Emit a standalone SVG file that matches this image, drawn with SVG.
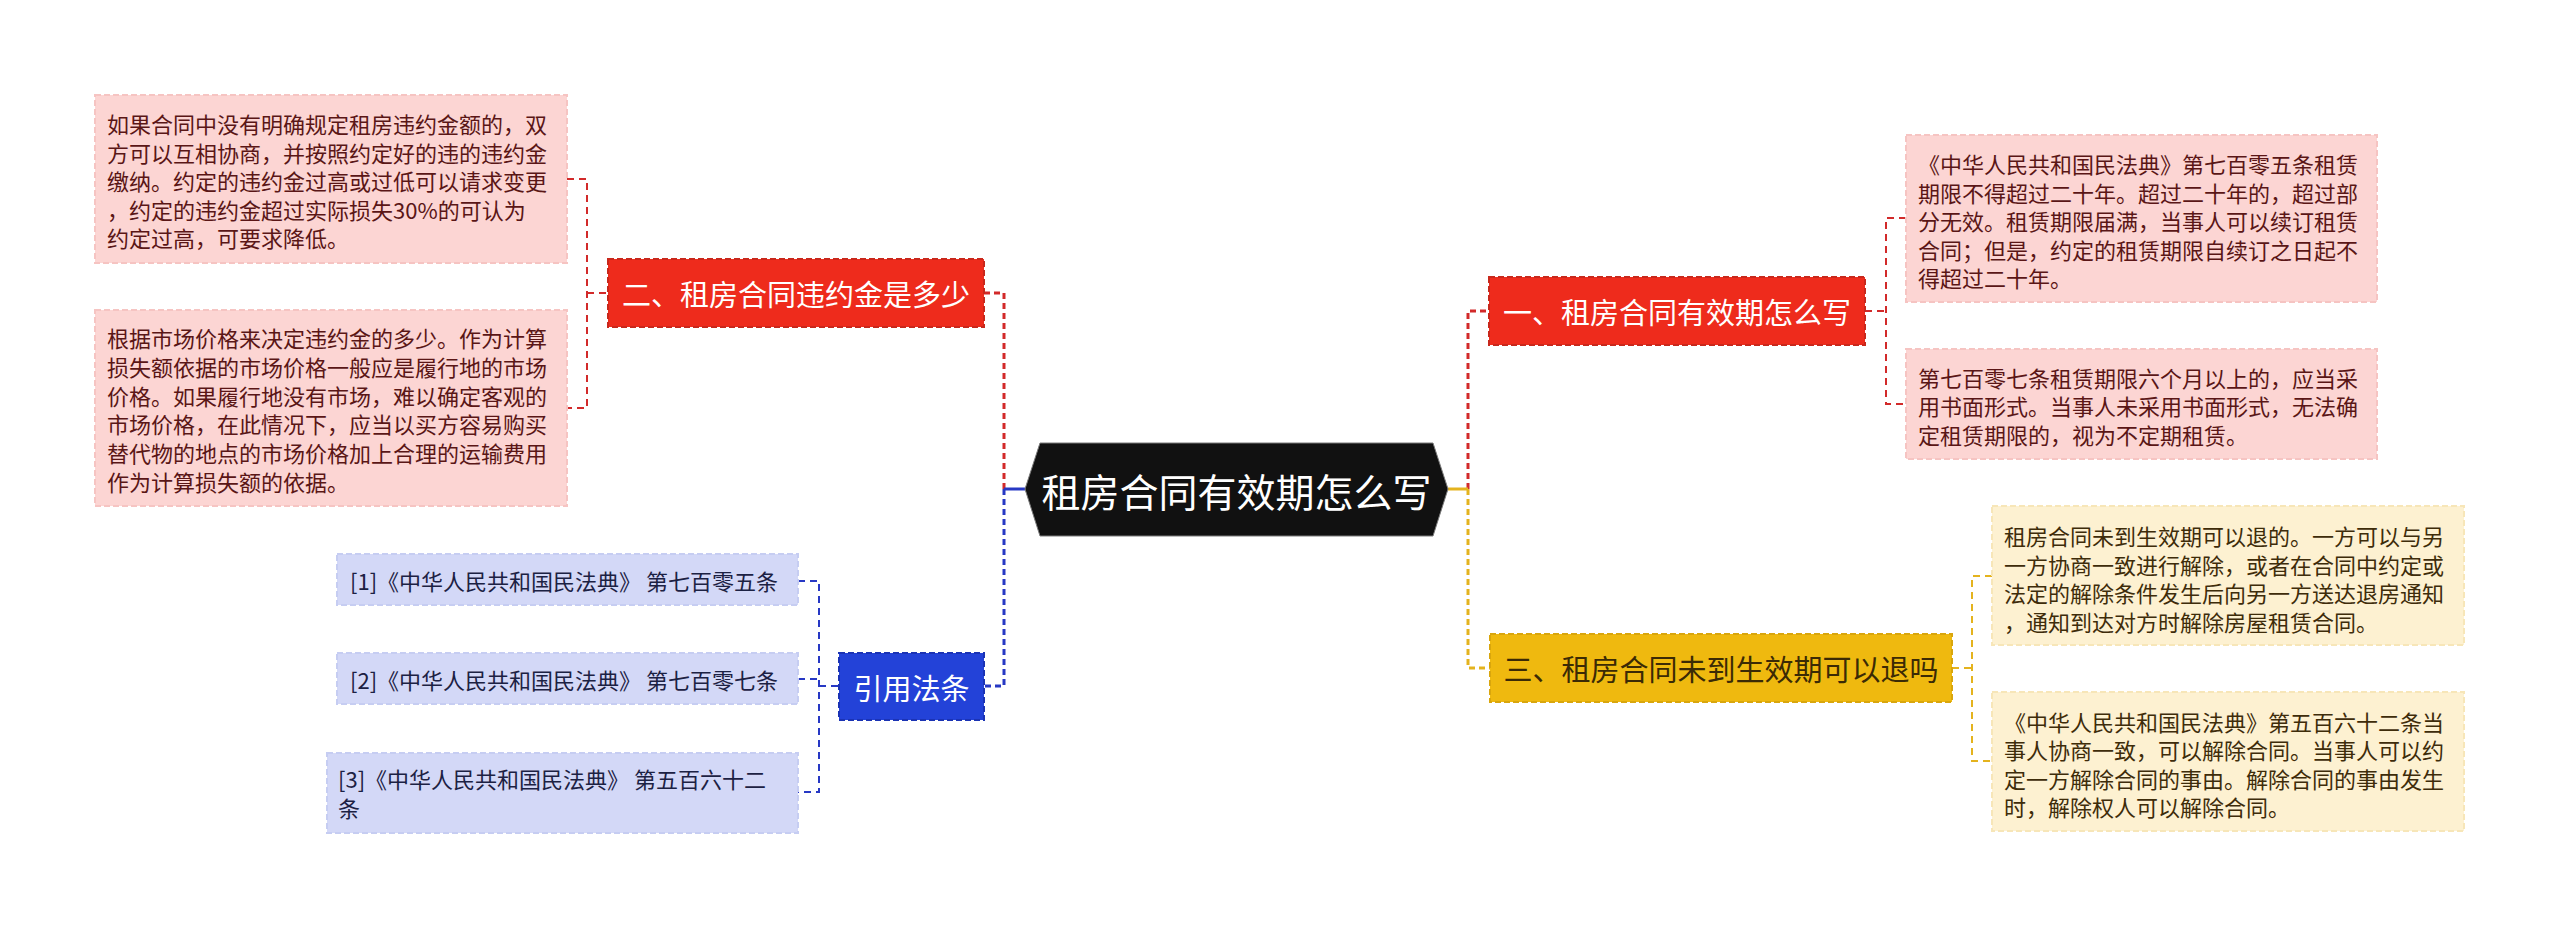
<svg xmlns="http://www.w3.org/2000/svg" width="2560" height="929" viewBox="0 0 2560 929">
<style>
text{font-family:"Noto Sans CJK SC","Microsoft YaHei",sans-serif;}
.bg{fill:#ffffff;}
.pink{fill:#fcd5d3;stroke:#f6c4c2;stroke-width:2;stroke-dasharray:6 3;}
.pt{font-size:22px;fill:#5a1616;dominant-baseline:central;}
.red{fill:#ee2b1c;stroke:#c8281c;stroke-width:2;stroke-dasharray:6 3;}
.wt{font-size:29px;fill:#ffffff;dominant-baseline:central;text-anchor:middle;}
.yel{fill:#efb90f;stroke:#d9a60d;stroke-width:2;stroke-dasharray:6 3;}
.yt{font-size:29px;fill:#3b2a05;dominant-baseline:central;text-anchor:middle;}
.cream{fill:#fdf1d1;stroke:#f7e6b8;stroke-width:2;stroke-dasharray:6 3;}
.ct{font-size:22px;fill:#3e2c0a;dominant-baseline:central;}
.blue{fill:#2342d8;stroke:#1b33b4;stroke-width:2;stroke-dasharray:6 3;}
.lav{fill:#d3d8f7;stroke:#c6cdf2;stroke-width:2;stroke-dasharray:6 3;}
.lt{font-size:22px;fill:#1c2143;dominant-baseline:central;}
.m{fill:none;stroke-width:3;stroke-dasharray:6 4;}
.s{fill:none;stroke-width:2;stroke-dasharray:7 5;}
.cr{stroke:#d22a2a;}
.cb{stroke:#2738c4;}
.cy{stroke:#e4b31e;}
</style>
<rect class="bg" x="0" y="0" width="2560" height="929"/>

<g id="connectors">
  <path class="m cr" d="M1004,489 V293 H984"/>
  <path class="m cb" d="M1004,489 V686 H984"/>
  <path d="M1025,489 H1004" fill="none" stroke="#2738c4" stroke-width="3"/>
  <path class="m cr" d="M1468,489 V311 H1489"/>
  <path class="m cy" d="M1468,489 V668 H1490"/>
  <path d="M1448,489 H1468" fill="none" stroke="#e4b31e" stroke-width="3"/>

  <path class="s cr" d="M567,179 H587 V408 H567"/>
  <path class="s cr" d="M587,293 H608"/>
  <path class="s cr" d="M1906,218 H1886 V404 H1906"/>
  <path class="s cr" d="M1865,311 H1886"/>
  <path class="s cy" d="M1992,576 H1972 V761 H1992"/>
  <path class="s cy" d="M1952,668 H1972"/>
  <path class="s cb" d="M798,581 H819 V792 H798"/>
  <path class="s cb" d="M798,679 H819"/>
  <path class="s cb" d="M819,686 H839"/>
</g>

<g id="root">
  <polygon points="1025,489 1040,443 1433,443 1448,489 1433,536 1040,536" fill="#111111" stroke="#7a7a7a" stroke-width="1"/>
  <text x="1236.5" y="490" font-size="39" fill="#ffffff" text-anchor="middle" dominant-baseline="central">租房合同有效期怎么写</text>
</g>

<g id="n2">
  <rect class="red" x="608" y="259" width="376" height="68"/>
  <text class="wt" x="796" y="293">二、租房合同违约金是多少</text>
</g>
<g id="n2a">
  <rect class="pink" x="95" y="95" width="472" height="168"/>
  <text class="pt" x="107" y="123">如果合同中没有明确规定租房违约金额的，双</text>
  <text class="pt" x="107" y="151.5">方可以互相协商，并按照约定好的违的违约金</text>
  <text class="pt" x="107" y="180">缴纳。约定的违约金过高或过低可以请求变更</text>
  <text class="pt" x="107" y="208.5">，约定的违约金超过实际损失30%的可认为</text>
  <text class="pt" x="107" y="237">约定过高，可要求降低。</text>
</g>
<g id="n2b">
  <rect class="pink" x="95" y="310" width="472" height="196"/>
  <text class="pt" x="107" y="337">根据市场价格来决定违约金的多少。作为计算</text>
  <text class="pt" x="107" y="366">损失额依据的市场价格一般应是履行地的市场</text>
  <text class="pt" x="107" y="394.5">价格。如果履行地没有市场，难以确定客观的</text>
  <text class="pt" x="107" y="423">市场价格，在此情况下，应当以买方容易购买</text>
  <text class="pt" x="107" y="452">替代物的地点的市场价格加上合理的运输费用</text>
  <text class="pt" x="107" y="481">作为计算损失额的依据。</text>
</g>

<g id="n4">
  <rect class="blue" x="839" y="653" width="145" height="67"/>
  <text class="wt" x="911.5" y="686.5">引用法条</text>
</g>
<g id="n4a">
  <rect class="lav" x="337" y="554" width="461" height="51"/>
  <text class="lt" x="350" y="580">[1]《中华人民共和国民法典》 第七百零五条</text>
</g>
<g id="n4b">
  <rect class="lav" x="337" y="653" width="461" height="51"/>
  <text class="lt" x="350" y="679">[2]《中华人民共和国民法典》 第七百零七条</text>
</g>
<g id="n4c">
  <rect class="lav" x="327" y="753" width="471" height="80"/>
  <text class="lt" x="338" y="778">[3]《中华人民共和国民法典》 第五百六十二</text>
  <text class="lt" x="338" y="807">条</text>
</g>

<g id="n1">
  <rect class="red" x="1489" y="277" width="376" height="68"/>
  <text class="wt" x="1677" y="311">一、租房合同有效期怎么写</text>
</g>
<g id="n1a">
  <rect class="pink" x="1906" y="135" width="471" height="167"/>
  <text class="pt" x="1918" y="163">《中华人民共和国民法典》第七百零五条租赁</text>
  <text class="pt" x="1918" y="191.5">期限不得超过二十年。超过二十年的，超过部</text>
  <text class="pt" x="1918" y="220">分无效。租赁期限届满，当事人可以续订租赁</text>
  <text class="pt" x="1918" y="248.5">合同；但是，约定的租赁期限自续订之日起不</text>
  <text class="pt" x="1918" y="277">得超过二十年。</text>
</g>
<g id="n1b">
  <rect class="pink" x="1906" y="349" width="471" height="110"/>
  <text class="pt" x="1918" y="376.5">第七百零七条租赁期限六个月以上的，应当采</text>
  <text class="pt" x="1918" y="405">用书面形式。当事人未采用书面形式，无法确</text>
  <text class="pt" x="1918" y="433.5">定租赁期限的，视为不定期租赁。</text>
</g>

<g id="n3">
  <rect class="yel" x="1490" y="634" width="462" height="68"/>
  <text class="yt" x="1721" y="668">三、租房合同未到生效期可以退吗</text>
</g>
<g id="n3a">
  <rect class="cream" x="1992" y="506" width="472" height="139"/>
  <text class="ct" x="2004" y="535">租房合同未到生效期可以退的。一方可以与另</text>
  <text class="ct" x="2004" y="563.5">一方协商一致进行解除，或者在合同中约定或</text>
  <text class="ct" x="2004" y="592">法定的解除条件发生后向另一方送达退房通知</text>
  <text class="ct" x="2004" y="620.5">，通知到达对方时解除房屋租赁合同。</text>
</g>
<g id="n3b">
  <rect class="cream" x="1992" y="692" width="472" height="139"/>
  <text class="ct" x="2004" y="720.5">《中华人民共和国民法典》第五百六十二条当</text>
  <text class="ct" x="2004" y="749">事人协商一致，可以解除合同。当事人可以约</text>
  <text class="ct" x="2004" y="777.5">定一方解除合同的事由。解除合同的事由发生</text>
  <text class="ct" x="2004" y="806">时，解除权人可以解除合同。</text>
</g>
</svg>
